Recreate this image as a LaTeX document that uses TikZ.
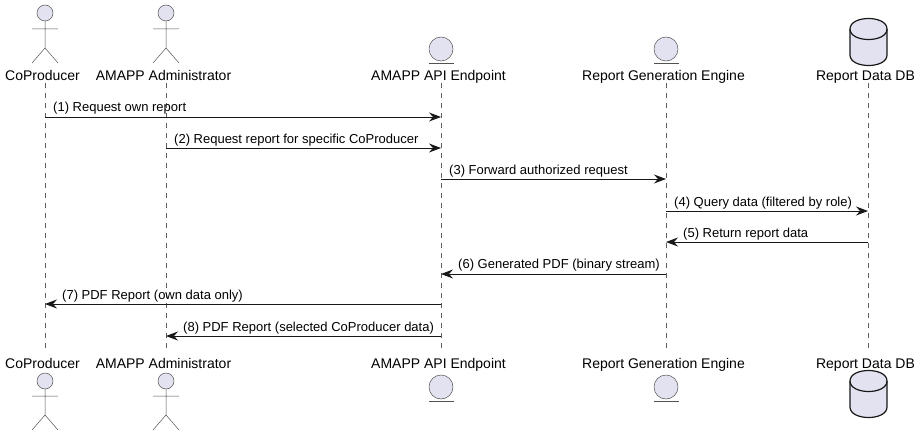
\documentclass[tikz,border=0pt]{standalone}
\usepackage{fontspec}
\setmainfont{Liberation Sans}
\usetikzlibrary{arrows.meta}

\definecolor{headfill}{HTML}{E2E2F0}
\definecolor{headline}{HTML}{181818}

\tikzset{
  partname/.style={anchor=base, inner sep=0pt, text height=10pt, text depth=3pt, font=\fontsize{14}{16}\selectfont},
  msglabel/.style={anchor=base west, inner sep=0pt, font=\fontsize{13}{15}\selectfont},
  lifeline/.style={headline!70, line width=0.5pt, dash pattern=on 5pt off 5pt},
  message/.style={headline, line width=1pt, -{Stealth[length=12pt,width=9pt,inset=4pt]}},
  figure/.style={headline!75, line width=0.5pt},
  figurehead/.style={fill=headfill, draw=headline!75, line width=0.5pt},
  dbshape/.style={fill=headfill, draw=headline, line width=1.2pt}
}

\begin{document}
\begin{tikzpicture}[x=1pt, y=-1pt]

\useasboundingbox (0,0) rectangle (920,436);

%
% Names on top
%
\path (42.5,80) node [partname] (coprodtop) {CoProducer};
\path (163.5,80) node [partname] (admintop) {AMAPP Administrator};
\path (438.5,80) node [partname] (apitop) {AMAPP API Endpoint};
\path (663.5,80) node [partname] (enginetop) {Report Generation Engine};
\path (865.5,80) node [partname] (dbtop) {Report Data DB};

%
% Names at the bottom
%
\path (42.5,368) node [partname] (coprodbot) {CoProducer};
\path (163.5,368) node [partname] (adminbot) {AMAPP Administrator};
\path (438.5,368) node [partname] (apibot) {AMAPP API Endpoint};
\path (663.5,368) node [partname] (enginebot) {Report Generation Engine};
\path (865.5,368) node [partname] (dbbot) {Report Data DB};

% Lifelines
\draw[lifeline, shorten >=7pt] (coprodtop.south -| 45,0) -- (coprodbot.north -| 45,0);
\draw[lifeline, shorten >=7pt] (admintop.south -| 166,0) -- (adminbot.north -| 166,0);
\draw[lifeline, shorten >=7pt] (apitop.south -| 441,0) -- (apibot.north -| 441,0);
\draw[lifeline, shorten >=7pt] (enginetop.south -| 666,0) -- (enginebot.north -| 666,0);
\draw[lifeline, shorten >=7pt] (dbtop.south -| 868,0) -- (dbbot.north -| 868,0);

%
% Actors on top
%
\filldraw[figurehead] (45,13) circle [radius=8];
\draw[figure] (45,21) -- (45,48) (32,29) -- (58,29) (32,63) -- (45,48) -- (58,63);

\filldraw[figurehead] (166,13) circle [radius=8];
\draw[figure] (166,21) -- (166,48) (153,29) -- (179,29) (153,63) -- (166,48) -- (179,63);

%
% Actors at the bottom
%
\filldraw[figurehead] (45,381) circle [radius=8];
\draw[figure] (45,389) -- (45,415) (32,396) -- (58,396) (32,430) -- (45,415) -- (58,430);

\filldraw[figurehead] (166,381) circle [radius=8];
\draw[figure] (166,389) -- (166,415) (153,396) -- (179,396) (153,430) -- (166,415) -- (179,430);

%
% Entities
%
\filldraw[figurehead] (441,49) circle [radius=12];
\draw[figure] (429,63) -- (454,63);

\filldraw[figurehead] (666,49) circle [radius=12];
\draw[figure] (654,63) -- (679,63);

\filldraw[figurehead] (441,387) circle [radius=12];
\draw[figure] (429,401) -- (454,401);

\filldraw[figurehead] (666,387) circle [radius=12];
\draw[figure] (654,401) -- (679,401);

%
% Databases
%
\filldraw[dbshape] (850,29) .. controls (850,15) and (887,15) .. (887,29) -- (887,55)
  .. controls (887,69) and (850,69) .. (850,55) -- cycle;
\draw[dbshape, fill=none] (850,29) .. controls (850,43) and (887,43) .. (887,29);

\filldraw[dbshape] (850,381) .. controls (850,367) and (887,367) .. (887,381) -- (887,407)
  .. controls (887,421) and (850,421) .. (850,407) -- cycle;
\draw[dbshape, fill=none] (850,381) .. controls (850,395) and (887,395) .. (887,381);

%
% Message ends on the lifelines
%
\path (45,117) coordinate (coprodone) (441,117) coordinate (apione);
\path (166,148) coordinate (admintwo) (441,148) coordinate (apitwo);
\path (441,179) coordinate (apithree) (666,179) coordinate (enginethree);
\path (666,211) coordinate (enginefour) (868,211) coordinate (dbfour);
\path (868,242) coordinate (dbfive) (666,242) coordinate (enginefive);
\path (666,274) coordinate (enginesix) (441,274) coordinate (apisix);
\path (441,304) coordinate (apiseven) (45,304) coordinate (coprodseven);
\path (441,336) coordinate (apieight) (166,336) coordinate (admineight);

%
% Messages
%
\draw[message] (coprodone) -- (apione);
\path (53,111) node [msglabel] (labelone) {(1) Request own report};

\draw[message] (admintwo) -- (apitwo);
\path (174,143) node [msglabel] (labeltwo) {(2) Request report for specific CoProducer};

\draw[message] (apithree) -- (enginethree);
\path (449,174) node [msglabel] (labelthree) {(3) Forward authorized request};

\draw[message] (enginefour) -- (dbfour);
\path (674,206) node [msglabel] (labelfour) {(4) Query data (filtered by role)};

\draw[message] (dbfive) -- (enginefive);
\path (683,237) node [msglabel] (labelfive) {(5) Return report data};

\draw[message] (enginesix) -- (apisix);
\path (458,268) node [msglabel] (labelsix) {(6) Generated PDF (binary stream)};

\draw[message] (apiseven) -- (coprodseven);
\path (62,299) node [msglabel] (labelseven) {(7) PDF Report (own data only)};

\draw[message] (apieight) -- (admineight);
\path (183,331) node [msglabel] (labeleight) {(8) PDF Report (selected CoProducer data)};

\end{tikzpicture}
\end{document}
